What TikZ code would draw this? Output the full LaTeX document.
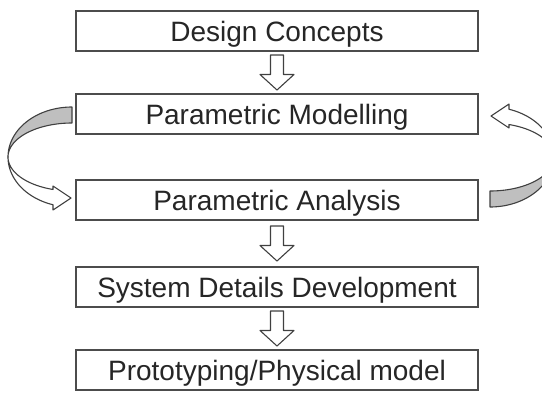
\documentclass[tikz,border=0pt]{standalone}
\usepackage{fontspec}
\setmainfont{Liberation Sans}
\usetikzlibrary{calc}
\begin{document}
\begin{tikzpicture}[x=1pt,y=-1pt,
  box/.style={draw=black!70, line width=1.3pt, fill=white, minimum width=402pt,
    minimum height=40pt, inner sep=0pt, text height=20pt, text depth=0pt,
    font=\fontsize{28}{30}\selectfont, text=black!85},
  arrowline/.style={draw=black!75, line width=1.1pt, line join=round},
  darrow/.pic={\draw[arrowline, fill=white] (-6.5,-17.5) -- (6.5,-17.5) -- (6.5,2)
     -- (17,2) -- (0,17.5) -- (-17,2) -- (-6.5,2) -- cycle;},
  curl/.pic={
    \draw[arrowline, fill=gray!50]
      plot[domain=90:180, samples=40, variable=\t] ({64*cos(\t)},{-50*sin(\t)})
      -- plot[domain=180:90, samples=40, variable=\t] ({64*cos(\t)},{-34*sin(\t)})
      -- cycle;
    \draw[arrowline, fill=white]
      plot[domain=180:252.7, samples=40, variable=\t] ({64*cos(\t)},{-50*sin(\t)})
      -- (-19,53) -- (-1,41) -- (-19,29) -- (-19,32.5)
      -- plot[domain=252.7:180, samples=40, variable=\t] ({64*cos(\t)},{-34*sin(\t)})
      -- cycle;
  }
]
\useasboundingbox (0,0) rectangle (542,392);
\node[box] (dc) at (277,31) {Design Concepts};
\node[box] (pm) at (277,114) {Parametric Modelling};
\node[box] (pa) at (277,200) {Parametric Analysis};
\node[box] (sd) at (277,287) {System Details Development};
\node[box] (pp) at (277,370) {Prototyping/Physical model};
\pic at ($(dc.south)!0.5!(pm.north)$) {darrow};
\pic at ($(pa.south)!0.5!(sd.north)$) {darrow};
\pic at ($(sd.south)!0.5!(pp.north)$) {darrow};
\pic at (72,157) {curl};
\pic[rotate=180] at (490,157) {curl};
\end{tikzpicture}
\end{document}
